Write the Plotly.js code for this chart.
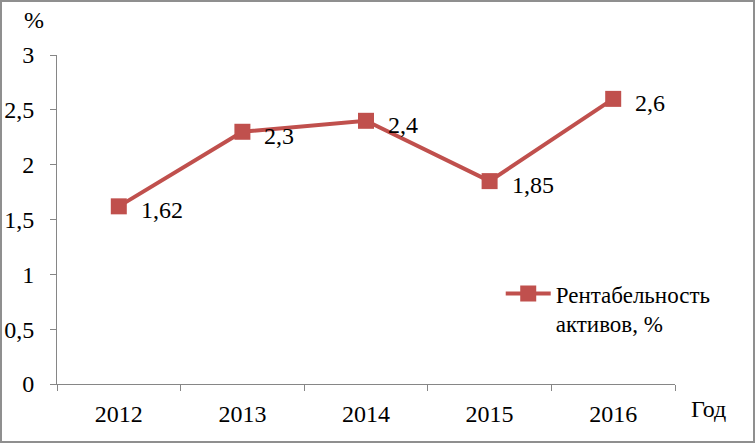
<!DOCTYPE html>
<html>
<head>
<meta charset="utf-8">
<script src="https://cdn.plot.ly/plotly-3.0.1.min.js"></script>
<style>
html,body{margin:0;padding:0;background:#fff;}
#chart{width:755px;height:443px;box-sizing:border-box;border:2px solid #8f8f8f;}
#chart svg text{font-family:'Liberation Serif','Times New Roman',serif !important;}
</style>
</head>
<body>
<div id="chart"></div>
<script>
const years = ['2012', '2013', '2014', '2015', '2016'];
const values = [1.62, 2.3, 2.4, 1.85, 2.6];
const labels = ['1,62', '2,3', '2,4', '1,85', '2,6'];
const seriesName = 'Рентабельность<br>активов, %';

const font = {family: 'Liberation Serif', size: 24, color: '#000'};
const legendFont = {family: 'Liberation Serif', size: 23, color: '#000'};

const trace = {
  x: years, y: values,
  type: 'scatter', mode: 'lines+markers',
  name: seriesName,
  line: {color: '#C0504D', width: 4},
  marker: {color: '#C0504D', symbol: 'square', size: 16},
  cliponaxis: false
};

const valueLabels = years.map((yr, i) => ({
  x: i, y: values[i], text: labels[i], xref: 'x', yref: 'y',
  xanchor: 'left', yanchor: 'middle', xshift: 20, yshift: -4,
  showarrow: false, font: font
}));

const layout = {
  width: 751, height: 439,
  margin: {l: 55, r: 78, t: 53, b: 57},
  paper_bgcolor: '#fff', plot_bgcolor: '#fff',
  separators: ', ',
  font: font,
  showlegend: true,
  legend: {x: 0.718, y: 0.34, xanchor: 'left', yanchor: 'top', valign: 'top', itemwidth: 45, font: legendFont, bgcolor: 'rgba(0,0,0,0)'},
  xaxis: {
    type: 'category', range: [-0.5, 4.5], tickson: 'boundaries', ticks: 'outside', ticklen: 6, tickcolor: '#868686',
    showline: true, linecolor: '#868686', linewidth: 1, showgrid: false, zeroline: false,
    tickfont: font, ticklabelstandoff: 8
  },
  yaxis: {
    range: [0, 3], dtick: 0.5, tick0: 0, ticks: 'outside', ticklen: 6, tickcolor: '#868686',
    showline: true, linecolor: '#868686', linewidth: 1, showgrid: false, zeroline: false,
    tickfont: font, ticklabelstandoff: 11, tickformat: '.1~f'
  },
  annotations: valueLabels.concat([
    {text: '%', xref: 'paper', yref: 'paper', x: -0.038, y: 1.106, xanchor: 'center', yanchor: 'middle', showarrow: false, font: font},
    {text: 'Год', xref: 'paper', yref: 'paper', x: 1.055, y: -0.076, xanchor: 'center', yanchor: 'middle', showarrow: false, font: font}
  ])
};

Plotly.newPlot('chart', [trace], layout, {displayModeBar: false, staticPlot: true});
</script>
</body>
</html>
